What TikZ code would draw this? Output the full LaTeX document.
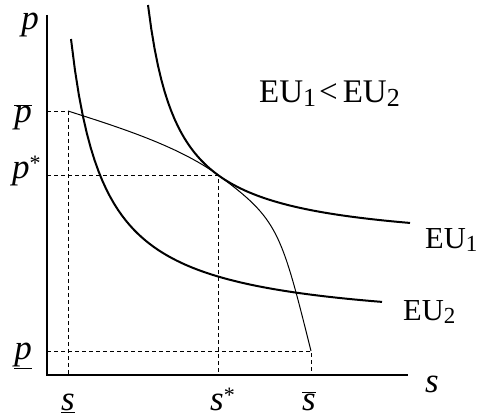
\documentclass[tikz,border=0pt]{standalone}
\usepackage{fontspec}
\setmainfont{Liberation Serif}
\newcommand{\subsz}[1]{\raisebox{-3.5pt}{\fontsize{26}{26}\selectfont #1}}
\newcommand{\subsm}[1]{\raisebox{-3pt}{\fontsize{23}{23}\selectfont #1}}
\newcommand{\starsup}{\raisebox{8pt}{\fontsize{22}{22}\selectfont\upshape *}}
\begin{document}
\begin{tikzpicture}[x=1pt,y=-1pt,
  axis/.style={line width=1.3pt},
  guide/.style={line width=0.9pt,dash pattern=on 4pt off 3pt},
  eu/.style={line width=2pt},
  budget/.style={line width=1pt},
  lab/.style={inner sep=0pt,font=\fontsize{33}{38}\selectfont},
  slab/.style={inner sep=0pt,font=\fontsize{30.5}{36}\selectfont},
  ilab/.style={inner sep=0pt,font=\fontsize{35}{40}\selectfont\itshape}]
\useasboundingbox (0,0) rectangle (478,419);
% axes
\coordinate (O) at (47,375);
\coordinate (ytop) at (47,15);
\coordinate (xend) at (408,375);
\draw[axis] (ytop) -- (O) -- (xend);
% key points
\coordinate (pbar) at (47,111);
\coordinate (A) at (68,111);
\coordinate (sl) at (68,375);
\coordinate (pst) at (47,175);
\coordinate (T) at (218,175);
\coordinate (sst) at (218,375);
\coordinate (pl) at (47,351);
\coordinate (B) at (311,351);
\coordinate (sb) at (311,375);
\draw[guide] (pbar) -- (A) -- (sl);
\draw[guide] (pst) -- (T) -- (sst);
\draw[guide] (pl) -- (B) -- (sb);
% indifference curves
\draw[eu] plot[domain=148:410,samples=80] (\x,{247.9-7286/(\x-118)});
\draw[eu] plot[domain=71:382,samples=80] (\x,{329.8-9596/(\x-38)});
% thin curve
\draw[budget] (A) .. controls (118,127) and (178,145.8) .. (T)
  .. controls (278,219) and (281,231) .. (B);
% labels
\node[ilab,anchor=base] (lp) at (30,30) {p};
\node[ilab,anchor=base] (lpbar) at (23,123) {$\overline{\mbox{\itshape p}}$};
\node[ilab,anchor=base west] (lpst) at (12,179) {p\starsup};
\node[ilab,anchor=base] (lpl) at (23,359) {$\underline{\mbox{\itshape p}}$};
\node[ilab,anchor=base] (lsl) at (68,410) {$\underline{\mbox{\itshape s}}$};
\node[ilab,anchor=base west] (lsst) at (210,410) {s\starsup};
\node[ilab,anchor=base] (lsb) at (309,410) {$\overline{\mbox{\itshape s}}$};
\node[ilab,anchor=base] (ls) at (432,392) {s};
\node[slab,anchor=base west] (eu1) at (425,248) {EU\subsm{1}};
\node[slab,anchor=base west] (eu2) at (403,320) {EU\subsm{2}};
\node[lab,anchor=base west] (cmp) at (259,103) {EU\subsz{1}\hspace{3pt}<\hspace{5pt}EU\subsz{2}};
\end{tikzpicture}
\end{document}
